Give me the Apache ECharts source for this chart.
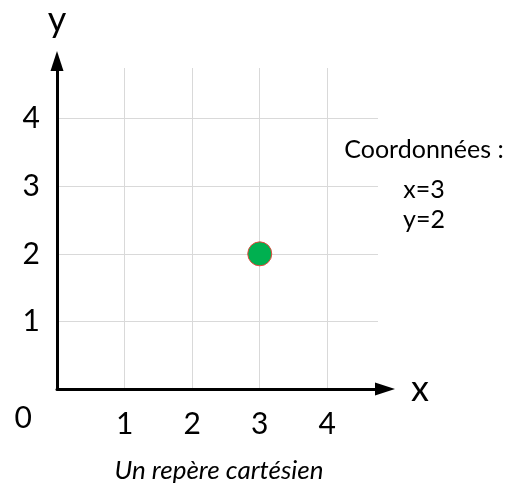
<!DOCTYPE html>
<html>
<head>
<meta charset="utf-8">
<script src="https://cdn.jsdelivr.net/npm/echarts@6/dist/echarts.min.js"></script>
<style>
  html, body { margin: 0; padding: 0; background: #fff; }
  #echart { width: 510px; height: 497px; }
</style>
</head>
<body>
<div id="echart"></div>
<script>
// axes go a little past the last tick, like the drawing
const axisMax = 4.75;
const xTicks = [1, 2, 3, 4];
const yTicks = [0, 1, 2, 3, 4];
const point = [3, 2];
const noteLines = ['Coordonnées :', 'x=' + point[0], 'y=' + point[1]];
const caption = 'Un repère cartésien';

const font = 'Lato, "Open Sans", sans-serif';
const noteTop = [150, 190, 220]; // line centres of the note
const chart = echarts.init(document.getElementById('echart'));

const axisLine = {
    onZero: false,
    lineStyle: { color: '#000', width: 3 },
    symbol: ['none', 'triangle'],
    symbolSize: [13, 20],
    symbolOffset: [0, 7]
};
const gridLine = { show: true, showMinLine: false, showMaxLine: false, lineStyle: { color: '#d9d9d9', width: 1 } };

const option = {
    animation: false,
    grid: { left: 57, right: 132, top: 68, bottom: 108 },
    xAxis: {
        type: 'value',
        min: 0,
        max: axisMax,
        interval: 1,
        name: 'x',
        nameLocation: 'end',
        nameGap: 33,
        nameTextStyle: { fontSize: 36, color: '#000', fontFamily: font, verticalAlign: 'middle' },
        axisLine: axisLine,
        axisTick: { show: false },
        splitLine: gridLine,
        axisLabel: {
            margin: 20,
            fontSize: 30,
            color: '#000',
            fontFamily: font,
            formatter: v => xTicks.includes(v) ? String(v) : ''
        }
    },
    yAxis: {
        type: 'value',
        min: 0,
        max: axisMax,
        interval: 1,
        name: 'y',
        nameLocation: 'end',
        nameGap: 30,
        nameTextStyle: { fontSize: 36, color: '#000', fontFamily: font },
        axisLine: axisLine,
        axisTick: { show: false },
        splitLine: gridLine,
        axisLabel: {
            margin: 17,
            fontSize: 30,
            color: '#000',
            fontFamily: font,
            // the 0 sits down-left of the origin
            formatter: v => v === 0 ? '{o|0}' : (yTicks.includes(v) ? String(v) : ''),
            rich: {
                o: { fontSize: 30, color: '#000', fontFamily: font, padding: [58, 8, 0, 0] }
            }
        }
    },
    series: [{
        type: 'scatter',
        data: [point],
        symbolSize: 24,
        itemStyle: { color: '#00b050', borderColor: '#e8453c', borderWidth: 1, opacity: 1 }
    }],
    graphic: noteLines.map((t, i) => ({
        type: 'text',
        x: 424,
        y: noteTop[i],
        style: {
            text: t,
            font: '25px ' + font,
            fill: '#000',
            align: 'center',
            verticalAlign: 'middle'
        }
    })).concat([{
        type: 'text',
        x: 219,
        y: 458,
        style: {
            text: caption,
            font: 'italic 26px ' + font,
            fill: '#000',
            align: 'center'
        }
    }])
};

chart.setOption(option);
</script>
</body>
</html>
